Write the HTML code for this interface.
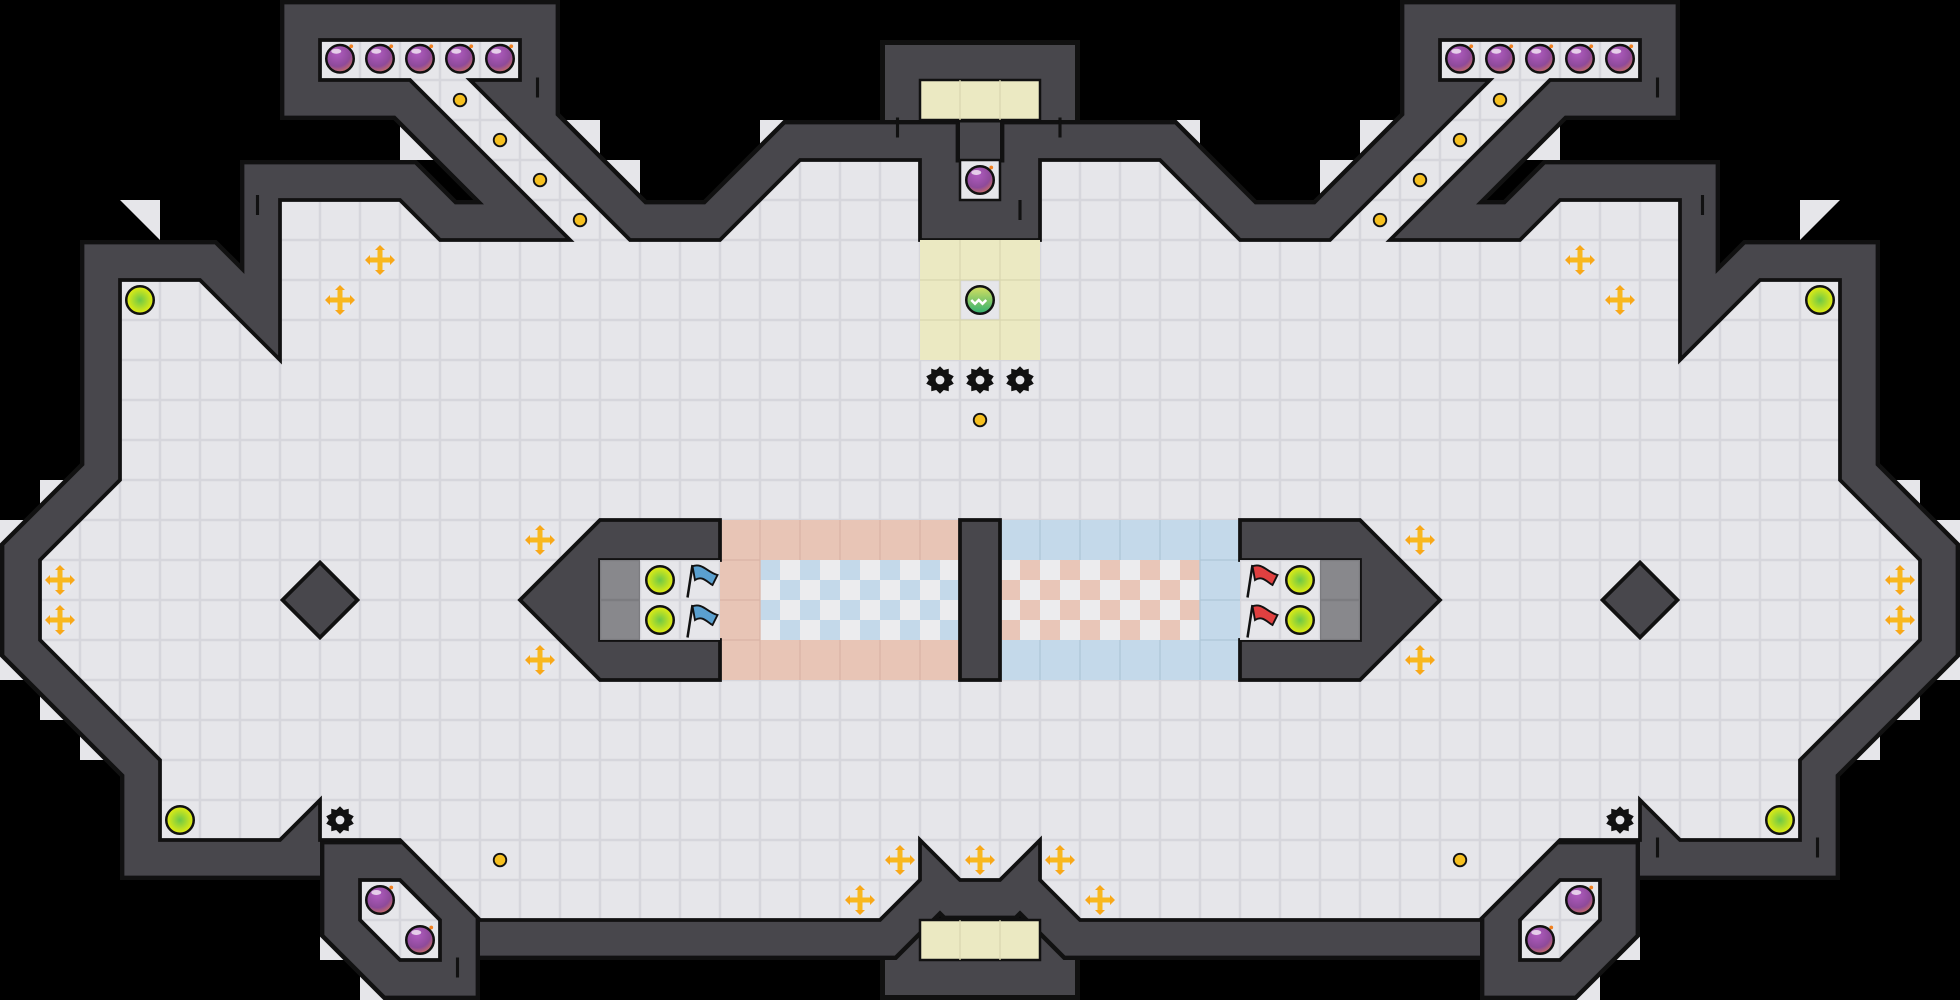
<!DOCTYPE html>
<html><head><meta charset="utf-8"><style>html,body{margin:0;padding:0;background:#000;}svg{display:block}</style></head>
<body>
<svg width="1960" height="1000" viewBox="0 0 1568 800" xmlns="http://www.w3.org/2000/svg">
<defs>
<pattern id="tile" width="32" height="32" patternUnits="userSpaceOnUse">
<rect width="32" height="32" fill="#d6d6dc"/><rect x="1" y="1" width="30" height="30" fill="#e6e6ea"/>
</pattern>
<pattern id="chkB" x="608" y="448" width="32" height="32" patternUnits="userSpaceOnUse">
<rect width="32" height="32" fill="#ececee"/><rect width="16" height="16" fill="#c4d9ea"/><rect x="16" y="16" width="16" height="16" fill="#c4d9ea"/>
</pattern>
<pattern id="chkR" x="800" y="448" width="32" height="32" patternUnits="userSpaceOnUse">
<rect width="32" height="32" fill="#ececee"/><rect x="16" width="16" height="16" fill="#e9c6b8"/><rect y="16" width="16" height="16" fill="#e9c6b8"/>
</pattern>
<radialGradient id="bombG" cx="0.4" cy="0.3" r="0.8"><stop offset="0" stop-color="#b05cc0"/><stop offset="0.6" stop-color="#8e4a9a"/><stop offset="1" stop-color="#e07a50"/></radialGradient>
<radialGradient id="grnG" cx="0.5" cy="0.5" r="0.5"><stop offset="0" stop-color="#6cc848"/><stop offset="1" stop-color="#e8ee10"/></radialGradient>
<linearGradient id="tealG" x1="0" y1="0" x2="0" y2="1"><stop offset="0" stop-color="#d8e060"/><stop offset="1" stop-color="#30b070"/></linearGradient>
<g id="bomb"><circle r="11" fill="url(#bombG)" stroke="#111" stroke-width="2"/><ellipse cx="-3" cy="-6" rx="4" ry="2" fill="#fff" opacity="0.7"/><circle cx="9" cy="-10" r="1.5" fill="#f08020"/></g>
<g id="grn"><circle r="11" fill="url(#grnG)" stroke="#111" stroke-width="2"/></g>
<g id="dot"><circle r="5" fill="#f6c020" stroke="#111" stroke-width="1.5"/></g>
<g id="cross"><circle r="12" fill="#e8e8ec"/><path d="M-2,-9 L-2,-2 L-9,-2 L-9,2 L-2,2 L-2,9 L2,9 L2,2 L9,2 L9,-2 L2,-2 L2,-9Z" fill="#f8b820"/><path d="M0,-12 L-4,-8 L4,-8Z M0,12 L-4,8 L4,8Z M-12,0 L-8,-4 L-8,4Z M12,0 L8,-4 L8,4Z" fill="#f8a818"/></g>
<g id="gear"><polygon points="0,-11 3,-8 7,-9 7,-5 11,-3 9,0 11,3 7,5 7,9 3,8 0,11 -3,8 -7,9 -7,5 -11,3 -9,0 -11,-3 -7,-5 -7,-9 -3,-8" fill="#111"/><circle r="3.5" fill="#e6e6ea"/></g>
<g id="flagB"><line x1="-10" y1="14" x2="-6" y2="-12" stroke="#111" stroke-width="2"/><path d="M-6,-11 C2,-14 6,-6 14,-4 L10,4 C6,2 2,-4 -4,0Z" fill="#5aa0d0" stroke="#111" stroke-width="1.5"/></g>
<g id="flagR"><line x1="-10" y1="14" x2="-6" y2="-12" stroke="#111" stroke-width="2"/><path d="M-6,-11 C2,-14 6,-6 14,-4 L10,4 C6,2 2,-4 -4,0Z" fill="#e04040" stroke="#111" stroke-width="1.5"/></g>
<g id="grate"><rect x="-16" y="-16" width="32" height="32" fill="#7c7c80"/><rect x="-15" y="-15" width="30" height="30" fill="#88888c"/></g>
</defs>

<rect width="1568" height="800" fill="#000"/>

<!-- outside light patches -->
<g fill="#e6e6ea">
<polygon points="96,160 128,160 128,192"/><polygon points="1472,160 1440,160 1440,192"/>
<polygon points="608,96 640,96 608,128"/><polygon points="960,96 928,96 960,128"/>
<rect x="32" y="384" width="32" height="32"/><rect x="0" y="416" width="32" height="128"/><rect x="32" y="544" width="32" height="32"/><rect x="64" y="576" width="32" height="32"/>
<rect x="1504" y="384" width="32" height="32"/><rect x="1536" y="416" width="32" height="128"/><rect x="1504" y="544" width="32" height="32"/><rect x="1472" y="576" width="32" height="32"/>
<rect x="320" y="96" width="32" height="32"/><rect x="1216" y="96" width="32" height="32"/>
<rect x="448" y="96" width="32" height="32"/><rect x="480" y="128" width="32" height="32"/><rect x="1088" y="96" width="32" height="32"/><rect x="1056" y="128" width="32" height="32"/>
<rect x="256" y="736" width="32" height="32"/><rect x="288" y="768" width="32" height="32"/><rect x="1280" y="736" width="32" height="32"/><rect x="1248" y="768" width="32" height="32"/>
<rect x="704" y="768" width="32" height="32"/><rect x="832" y="768" width="32" height="32"/>
</g>

<!-- top and bottom center rooms -->
<rect x="706" y="34" width="156" height="76" fill="#48474c" stroke="#111" stroke-width="4"/>
<rect x="738" y="96" width="92" height="98" fill="#48474c" stroke="#111" stroke-width="4"/>
<rect x="706" y="736" width="156" height="62" fill="#48474c" stroke="#111" stroke-width="4"/>

<g id="walls">
<path id="fl" d="M736,192 L736,128 L640,128 L576,192 L504,192 L376,64 L416,64 L416,32 L256,32 L256,64 L328,64 L456,192 L352,192 L320,160 L224,160 L224,288 L160,224 L96,224 L96,384 L32,448 L32,512 L128,608 L128,672 L224,672 L256,640 L256,672 L320,672 L384,736 L704,736 L736,704 L736,672 L768,704 L800,704 L832,672 L832,704 L864,736 L1184,736 L1248,672 L1312,672 L1312,640 L1344,672 L1440,672 L1440,608 L1536,512 L1536,448 L1472,384 L1472,224 L1408,224 L1344,288 L1344,160 L1248,160 L1216,192 L1112,192 L1240,64 L1312,64 L1312,32 L1152,32 L1152,64 L1192,64 L1064,192 L992,192 L928,128 L832,128 L832,192 Z" fill="none" stroke="#111" stroke-width="64" stroke-linejoin="miter" stroke-miterlimit="3"/>
<path d="M736,192 L736,128 L640,128 L576,192 L504,192 L376,64 L416,64 L416,32 L256,32 L256,64 L328,64 L456,192 L352,192 L320,160 L224,160 L224,288 L160,224 L96,224 L96,384 L32,448 L32,512 L128,608 L128,672 L224,672 L256,640 L256,672 L320,672 L384,736 L704,736 L736,704 L736,672 L768,704 L800,704 L832,672 L832,704 L864,736 L1184,736 L1248,672 L1312,672 L1312,640 L1344,672 L1440,672 L1440,608 L1536,512 L1536,448 L1472,384 L1472,224 L1408,224 L1344,288 L1344,160 L1248,160 L1216,192 L1112,192 L1240,64 L1312,64 L1312,32 L1152,32 L1152,64 L1192,64 L1064,192 L992,192 L928,128 L832,128 L832,192 Z" fill="none" stroke="#48474c" stroke-width="57" stroke-linejoin="miter" stroke-miterlimit="3"/>
<path d="M288,704 L320,704 L352,736 L352,768 L320,768 L288,736Z M1280,704 L1248,704 L1216,736 L1216,768 L1248,768 L1280,736Z" fill="none" stroke="#111" stroke-width="64" stroke-linejoin="miter"/>
<path d="M288,704 L320,704 L352,736 L352,768 L320,768 L288,736Z M1280,704 L1248,704 L1216,736 L1216,768 L1248,768 L1280,736Z" fill="none" stroke="#48474c" stroke-width="57" stroke-linejoin="miter"/>
</g>
<!-- floors -->
<path d="M736,192 L736,128 L640,128 L576,192 L504,192 L376,64 L416,64 L416,32 L256,32 L256,64 L328,64 L456,192 L352,192 L320,160 L224,160 L224,288 L160,224 L96,224 L96,384 L32,448 L32,512 L128,608 L128,672 L224,672 L256,640 L256,672 L320,672 L384,736 L704,736 L736,704 L736,672 L768,704 L800,704 L832,672 L832,704 L864,736 L1184,736 L1248,672 L1312,672 L1312,640 L1344,672 L1440,672 L1440,608 L1536,512 L1536,448 L1472,384 L1472,224 L1408,224 L1344,288 L1344,160 L1248,160 L1216,192 L1112,192 L1240,64 L1312,64 L1312,32 L1152,32 L1152,64 L1192,64 L1064,192 L992,192 L928,128 L832,128 L832,192 Z" fill="url(#tile)" stroke="#111" stroke-width="3" stroke-linejoin="miter"/>
<path d="M288,704 L320,704 L352,736 L352,768 L320,768 L288,736Z M1280,704 L1248,704 L1216,736 L1216,768 L1248,768 L1280,736Z" fill="url(#tile)" stroke="#111" stroke-width="3"/>
<!-- fix top center chamber -->
<rect x="738" y="130" width="92" height="62" fill="#48474c"/>
<line x1="736" y1="192" x2="832" y2="192" stroke="#111" stroke-width="3"/>
<rect x="768" y="128" width="32" height="32" fill="url(#tile)" stroke="#111" stroke-width="2"/>
<rect x="736" y="64" width="96" height="32" fill="#ebe9c2" stroke="#111" stroke-width="2"/>
<line x1="768" y1="64" x2="768" y2="96" stroke="#d8d6b0"/><line x1="800" y1="64" x2="800" y2="96" stroke="#d8d6b0"/>
<rect x="736" y="736" width="96" height="32" fill="#ebe9c2" stroke="#111" stroke-width="2"/>
<line x1="768" y1="736" x2="768" y2="768" stroke="#d8d6b0"/><line x1="800" y1="736" x2="800" y2="768" stroke="#d8d6b0"/>
<!-- yellow 3x3 -->
<path d="M736,192 H832 V288 H736Z M768,224 V256 H800 V224Z" fill="#ebe9c2" fill-rule="evenodd"/>
<g stroke="#d8d6b0" stroke-width="1"><line x1="768" y1="192" x2="768" y2="288"/><line x1="800" y1="192" x2="800" y2="288"/><line x1="736" y1="224" x2="832" y2="224"/><line x1="736" y1="256" x2="832" y2="256"/></g>

<!-- diamonds -->
<polygon points="256,450 286,480 256,510 226,480" fill="#48474c" stroke="#111" stroke-width="3"/>
<polygon points="1312,450 1342,480 1312,510 1282,480" fill="#48474c" stroke="#111" stroke-width="3"/>

<!-- center structure -->
<rect x="576" y="416" width="192" height="128" fill="#e8c5b6"/>
<rect x="608" y="448" width="160" height="64" fill="url(#chkB)"/>
<rect x="800" y="416" width="192" height="128" fill="#c4d9ea"/>
<rect x="800" y="448" width="160" height="64" fill="url(#chkR)"/>
<g stroke="#d9b4a6" stroke-width="1"><path d="M608,416V544M640,416V448M672,416V448M704,416V448M736,416V448M640,512V544M672,512V544M704,512V544M736,512V544M576,448H608M576,480H608M576,512H608"/></g>
<g stroke="#aec6d8" stroke-width="1"><path d="M960,416V544M928,416V448M896,416V448M864,416V448M832,416V448M928,512V544M896,512V544M864,512V544M832,512V544M960,448H992M960,480H992M960,512H992"/></g>
<rect x="768" y="416" width="32" height="128" fill="#48474c" stroke="#111" stroke-width="3"/>
<path d="M576,416 H480 L416,480 L480,544 H576 V512 H480 V448 H576Z" fill="#48474c" stroke="#111" stroke-width="3"/>
<rect x="480" y="448" width="96" height="64" fill="url(#tile)"/>
<path d="M992,416 H1088 L1152,480 L1088,544 H992 V512 H1088 V448 H992Z" fill="#48474c" stroke="#111" stroke-width="3"/>
<rect x="992" y="448" width="96" height="64" fill="url(#tile)"/>
<use href="#grate" x="496" y="464"/><use href="#grate" x="496" y="496"/>
<use href="#grate" x="1072" y="464"/><use href="#grate" x="1072" y="496"/>
<use href="#flagB" x="560" y="464"/><use href="#flagB" x="560" y="496"/>
<use href="#flagR" x="1008" y="464"/><use href="#flagR" x="1008" y="496"/>

<!-- items -->
<g>
<use href="#bomb" x="272" y="47"/><use href="#bomb" x="304" y="47"/><use href="#bomb" x="336" y="47"/><use href="#bomb" x="368" y="47"/><use href="#bomb" x="400" y="47"/>
<use href="#bomb" x="1168" y="47"/><use href="#bomb" x="1200" y="47"/><use href="#bomb" x="1232" y="47"/><use href="#bomb" x="1264" y="47"/><use href="#bomb" x="1296" y="47"/>
<use href="#bomb" x="784" y="144"/>
<use href="#bomb" x="304" y="720"/><use href="#bomb" x="336" y="752"/><use href="#bomb" x="1264" y="720"/><use href="#bomb" x="1232" y="752"/>
<use href="#grn" x="112" y="240"/><use href="#grn" x="1456" y="240"/><use href="#grn" x="144" y="656"/><use href="#grn" x="1424" y="656"/>
<use href="#grn" x="528" y="464"/><use href="#grn" x="528" y="496"/><use href="#grn" x="1040" y="464"/><use href="#grn" x="1040" y="496"/>
<use href="#dot" x="368" y="80"/><use href="#dot" x="400" y="112"/><use href="#dot" x="432" y="144"/><use href="#dot" x="464" y="176"/>
<use href="#dot" x="1200" y="80"/><use href="#dot" x="1168" y="112"/><use href="#dot" x="1136" y="144"/><use href="#dot" x="1104" y="176"/>
<use href="#dot" x="784" y="336"/><use href="#dot" x="400" y="688"/><use href="#dot" x="1168" y="688"/>
<use href="#cross" x="304" y="208"/><use href="#cross" x="272" y="240"/><use href="#cross" x="1264" y="208"/><use href="#cross" x="1296" y="240"/>
<use href="#cross" x="48" y="464"/><use href="#cross" x="48" y="496"/><use href="#cross" x="1520" y="464"/><use href="#cross" x="1520" y="496"/>
<use href="#cross" x="432" y="432"/><use href="#cross" x="432" y="528"/><use href="#cross" x="1136" y="432"/><use href="#cross" x="1136" y="528"/>
<use href="#cross" x="720" y="688"/><use href="#cross" x="688" y="720"/><use href="#cross" x="784" y="688"/><use href="#cross" x="848" y="688"/><use href="#cross" x="880" y="720"/>
<use href="#gear" x="752" y="304"/><use href="#gear" x="784" y="304"/><use href="#gear" x="816" y="304"/><use href="#gear" x="272" y="656"/><use href="#gear" x="1296" y="656"/>
<circle cx="784" cy="240" r="11" fill="url(#tealG)" stroke="#111" stroke-width="2"/>
<path d="M777,240 l3,3 l3,-3 l3,3 l3,-3" stroke="#fff" stroke-width="2" fill="none"/>
</g>
<!-- small wall ticks -->
<g stroke="#111" stroke-width="2.5">
<line x1="430" y1="62" x2="430" y2="78"/><line x1="1326" y1="62" x2="1326" y2="78"/>
<line x1="718" y1="94" x2="718" y2="110"/><line x1="848" y1="94" x2="848" y2="110"/>
<line x1="206" y1="156" x2="206" y2="172"/><line x1="1362" y1="156" x2="1362" y2="172"/>
<line x1="366" y1="766" x2="366" y2="782"/><line x1="1326" y1="670" x2="1326" y2="686"/><line x1="1454" y1="670" x2="1454" y2="686"/>
<line x1="816" y1="160" x2="816" y2="176"/>
</g>
</svg>
</body></html>
